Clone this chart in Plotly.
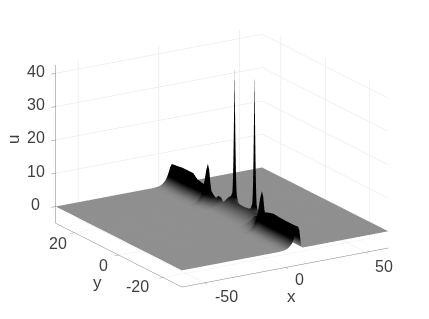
import plotly.graph_objects as go

# grid stations
x_st = [-64, -20, -4, 0, 2, 4, 5, 6, 7, 8, 8.8, 10, 11, 12, 13, 14.4, 16, 16.8, 17.4, 18, 18.8, 20, 64]
y_st = [28.5, 26, 23.4, 18.8, 17, 14, 13.2, 12.7, 12.2, 11.7, 11.2, 10.2, 9,
        8.1, 7.6, 7, 6.4, 5.9, 4.5, 3, 1.5, -0.9, -1.4, -2, -2.6, -3.1, -4, -5.5, -6.5, -7.5, -9,
        -10.2, -11.2, -11.7, -12.2, -12.7, -13.2, -14, -17.4, -20, -23.4, -26, -28.5]

# ridge height and ridge shape used by each y station
ridge_h = [6.2, 6.4, 6.7, 6.7, 5.5, 5.0, 5.2, 7.5, 11.7, 7.5, 4.5, 3.5, 3.0,
           2.7, 2.6, 2.5, 2.4, 2.3, 2.2, 2.1, 2.0, 1.9, 1.9, 1.9, 1.9, 1.9, 2.0, 2.1, 2.2, 2.5, 3.0,
           3.5, 4.5, 7.5, 11.7, 7.5, 5.5, 6.0, 6.7, 6.5, 6.4, 6.4, 6.5]
ridge_kind = [0] * 12 + [1] * 2 + [2] * 15 + [1] * 2 + [0] * 12

ridge_shapes = [
    [0, 0, 0, .03, .1, .25, .4, .6, .85, 1, .85, .05, 0, 0, 0, 0, 0, 0, 0, 0, 0, 0, 0],
    [0, 0, 0, .03, .08, .18, .28, .38, .5, .65, .8, 1, .9, .3, .05, 0, 0, 0, 0, 0, 0, 0, 0],
    [0, 0, 0, 0, .02, .08, .13, .18, .22, .3, .35, .45, .55, .65, .8, 1, .8, .5, .4, .3, .1, 0, 0],
]

# the two tall spikes: y stations, x stations and heights
spike_ys = [[8.1, 7.6, 7, 6.4, 5.9], [-0.9, -1.4, -2, -2.6, -3.1]]
spike_xs = [16, 16.8, 17.4, 18, 18.8]
spike_tops = [40.8, 42.5]
spike_shape = [
    [.4, .8, 1.2, .8, .4],
    [.8, 2.5, 4.5, 2.5, .8],
    [1.2, 4.5, None, 4.5, 1.2],
    [.8, 2.5, 4.5, 2.5, .8],
    [.4, .8, 1.2, .8, .4],
]

z_ticks = [0, 10, 20, 30, 40]
x_ticks = [-50, 0, 50]
y_ticks = [-20, 0, 20]

u = [[h * v for v in ridge_shapes[k]] for h, k in zip(ridge_h, ridge_kind)]
for ys, top in zip(spike_ys, spike_tops):
    for a, yv in enumerate(ys):
        for b, xv in enumerate(spike_xs):
            extra = spike_shape[a][b]
            j, i = y_st.index(yv), x_st.index(xv)
            u[j][i] = top if extra is None else u[j][i] + extra

fig = go.Figure(go.Surface(
    x=x_st, y=y_st, z=u, showscale=False, cmin=-1, cmax=3,
    colorscale=[[0, "#c4c4c4"], [.25, "#8f8f8f"], [1, "#000000"]],
    lighting=dict(ambient=1, diffuse=0, specular=0, fresnel=0, roughness=1),
    hoverinfo="skip",
))

ink = "#404040"
def lab(x, y, z, text, dx, dy):
    return dict(x=x, y=y, z=z, text=text, showarrow=False, xshift=dx, yshift=dy,
                font=dict(family="Liberation Sans", size=16, color=ink))

notes = [lab(-64, 28.5, v, str(v), -20, 2) for v in z_ticks]
notes += [lab(v, -28.5, -5, str(v), s, d) for v, s, d in zip(x_ticks, (22, 14, 18), (-14, -12, -14))]
notes += [lab(-64, v, -5, str(v), s, d) for v, s, d in zip(y_ticks, (-26, -15, -16), (-9, -10, -11))]

axis = dict(showbackground=False, showspikes=False, zeroline=False, showticklabels=False,
            gridcolor="#e4e4e4", gridwidth=1, showline=True, linecolor="#808080", linewidth=1,
            title=dict(text=""), ticks="inside", ticklen=5, tickcolor="#808080", tickwidth=1)

fig.update_layout(
    width=429, height=319, margin=dict(l=0, r=0, t=0, b=0), paper_bgcolor="white", showlegend=False,
    scene=dict(
        domain=dict(x=[0, .998], y=[.069, 1]),
        xaxis=dict(axis, range=[-64, 64], tickvals=x_ticks),
        yaxis=dict(axis, range=[-28.5, 28.5], tickvals=y_ticks),
        zaxis=dict(axis, range=[-5, 42.5], tickvals=z_ticks, ticks="outside"),
        aspectmode="manual", aspectratio=dict(x=1.63, y=1.63, z=1.12),
        camera=dict(eye=dict(x=-.93, y=-1.52, z=.58), up=dict(x=0, y=0, z=1),
                    projection=dict(type="orthographic")),
        annotations=notes,
    ),
    annotations=[
        dict(x=283, y=288, text="x"),
        dict(x=89, y=274, text="y"),
        dict(x=6, y=132, text="u", textangle=-90),
    ],
)
for a in fig.layout.annotations:
    a.update(xref="paper", yref="paper", showarrow=False, xanchor="center", yanchor="middle",
             x=a.x / 429, y=1 - a.y / 319, font=dict(family="Liberation Sans", size=17, color=ink))
fig.write_html("out.html")
